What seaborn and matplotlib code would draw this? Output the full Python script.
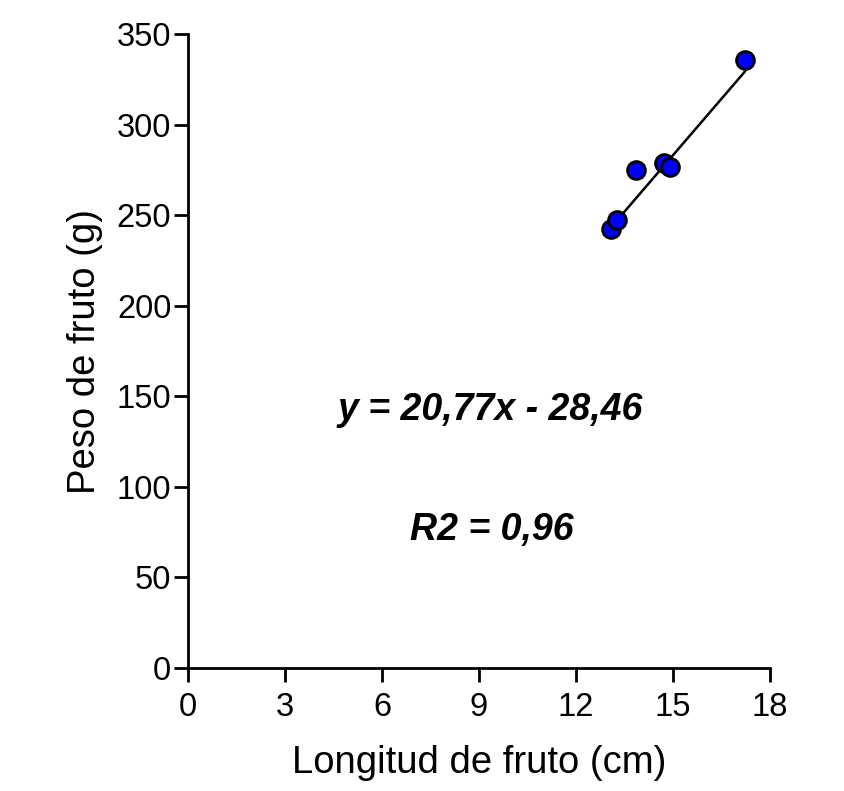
import matplotlib
matplotlib.use('Agg')
import matplotlib.pyplot as plt
import seaborn as sns
import numpy as np
import pandas as pd

# Data
longitud = [13.08, 13.28, 13.85, 14.72, 14.92, 17.23]
peso = [242.2, 247.3, 275.0, 278.7, 276.5, 335.6]
pendiente = 20.77
intercepto = -28.46
x_ticks = [0, 3, 6, 9, 12, 15, 18]
y_ticks = [0, 50, 100, 150, 200, 250, 300, 350]

sns.set_style('ticks')
plt.rcParams['font.family'] = ['Liberation Sans', 'DejaVu Sans']
plt.rcParams['text.color'] = 'black'
plt.rcParams['axes.labelcolor'] = 'black'
plt.rcParams['xtick.color'] = 'black'
plt.rcParams['ytick.color'] = 'black'
plt.rcParams['axes.edgecolor'] = 'black'

df = pd.DataFrame({'x': longitud, 'y': peso})
x_fit = np.array([min(longitud), max(longitud)])
fit = pd.DataFrame({'x': x_fit, 'y': pendiente * x_fit + intercepto})

fig = plt.figure(figsize=(8.44, 7.91), dpi=100)
ax = fig.add_axes([188/844, 1-668/791, (770-188)/844, (668-34)/791])

sns.lineplot(data=fit, x='x', y='y', color='black', linewidth=1.8, ax=ax)
sns.scatterplot(data=df, x='x', y='y', color='#0000ff', edgecolor='black',
                linewidth=2, s=165, zorder=3, ax=ax)

ax.set_xlim(0, 18)
ax.set_ylim(0, 350)
ax.set_xticks(x_ticks)
ax.set_yticks(y_ticks)
ax.tick_params(labelsize=23.5, width=2, length=10, direction='out')
ax.tick_params(axis='x', pad=7)
ax.tick_params(axis='y', pad=2)
for s in ['top', 'right']:
    ax.spines[s].set_visible(False)
for s in ['left', 'bottom']:
    ax.spines[s].set_linewidth(2)

ax.set_xlabel('Longitud de fruto (cm)', fontsize=27.5, labelpad=16)
ax.set_ylabel('Peso de fruto (g)', fontsize=27.5, labelpad=10)

ax.text(9.34, 142.4, 'y = 20,77x - 28,46', fontsize=27, fontweight='bold',
        fontstyle='italic', ha='center', va='center')
ax.text(9.4, 76.2, 'R2 = 0,96', fontsize=27, fontweight='bold',
        fontstyle='italic', ha='center', va='center')

plt.savefig('out.png', dpi=100)
